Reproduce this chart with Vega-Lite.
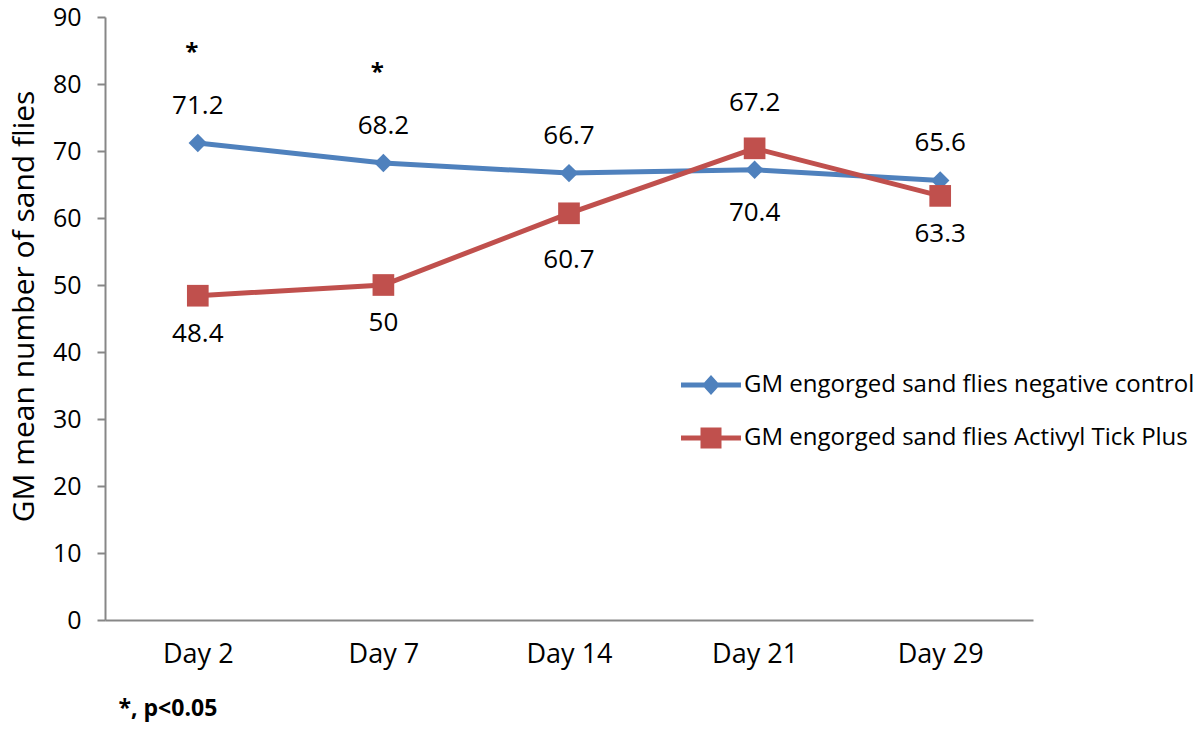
{
  "$schema": "https://vega.github.io/schema/vega-lite/v6.json",
  "width": 928,
  "height": 603,
  "autosize": {"type": "none"},
  "padding": {"left": 105, "top": 17, "right": 167, "bottom": 119},
  "background": "white",
  "config": {
    "font": "Open Sans",
    "view": {"stroke": null},
    "axis": {"domainColor": "#878787", "domainWidth": 2, "tickColor": "#878787", "tickWidth": 2, "labelColor": "#000", "titleColor": "#000", "grid": false}
  },
  "data": {
    "values": [
      {"day": "Day 2", "series": "GM engorged sand flies negative control", "value": 71.2, "sig": "*"},
      {"day": "Day 7", "series": "GM engorged sand flies negative control", "value": 68.2, "sig": "*"},
      {"day": "Day 14", "series": "GM engorged sand flies negative control", "value": 66.7, "sig": ""},
      {"day": "Day 21", "series": "GM engorged sand flies negative control", "value": 67.2, "sig": ""},
      {"day": "Day 29", "series": "GM engorged sand flies negative control", "value": 65.6, "sig": ""},
      {"day": "Day 2", "series": "GM engorged sand flies Activyl Tick Plus", "value": 48.4, "sig": ""},
      {"day": "Day 7", "series": "GM engorged sand flies Activyl Tick Plus", "value": 50, "sig": ""},
      {"day": "Day 14", "series": "GM engorged sand flies Activyl Tick Plus", "value": 60.7, "sig": ""},
      {"day": "Day 21", "series": "GM engorged sand flies Activyl Tick Plus", "value": 70.4, "sig": ""},
      {"day": "Day 29", "series": "GM engorged sand flies Activyl Tick Plus", "value": 63.3, "sig": ""}
    ]
  },
  "encoding": {
    "x": {
      "field": "day", "type": "ordinal",
      "sort": ["Day 2", "Day 7", "Day 14", "Day 21", "Day 29"],
      "scale": {"type": "point", "padding": 0.5},
      "title": "*, p<0.05",
      "axis": {
        "labelAngle": 0, "labelFontSize": 27, "labelPadding": 21, "ticks": false,
        "titleFontSize": 23, "titleFontWeight": "bold", "titleX": 13, "titleY": 88,
        "titleAlign": "left", "titleBaseline": "middle", "titleAnchor": "start"
      }
    },
    "y": {
      "field": "value", "type": "quantitative",
      "scale": {"domain": [0, 90], "nice": false, "zero": true},
      "title": "GM mean number of sand flies",
      "axis": {
        "values": [0, 10, 20, 30, 40, 50, 60, 70, 80, 90],
        "tickSize": 8, "labelFontSize": 25, "labelPadding": 16,
        "titleFontSize": 30, "titleFontWeight": "normal", "titleX": -81, "titleY": 289,
        "titleAlign": "center", "titleBaseline": "middle", "titleAngle": -90
      }
    }
  },
  "layer": [
    {
      "mark": {"type": "line", "strokeWidth": 5},
      "encoding": {
        "color": {
          "field": "series", "type": "nominal",
          "scale": {
            "domain": ["GM engorged sand flies negative control", "GM engorged sand flies Activyl Tick Plus"],
            "range": ["#4F81BD", "#C0504D"]
          },
          "legend": {
            "title": null, "orient": "none", "legendX": 591, "legendY": 353,
            "padding": 0, "symbolSize": 900, "labelOffset": 18, "rowPadding": 26,
            "labelFontSize": 24, "labelColor": "#000", "labelLimit": 600,
            "encode": {
              "symbols": {
                "update": {
                  "shape": {"signal": "datum.value == 'GM engorged sand flies negative control' ? 'M-2,-0.167L-0.45,-0.167L0,-0.67L0.45,-0.167L2,-0.167L2,0.167L0.45,0.167L0,0.67L-0.45,0.167L-2,0.167Z' : 'M-2,-0.167L-0.7,-0.167L-0.7,-0.7L0.7,-0.7L0.7,-0.167L2,-0.167L2,0.167L0.7,0.167L0.7,0.7L-0.7,0.7L-0.7,0.167L-2,0.167Z'"},
                  "fill": {"signal": "datum.value == 'GM engorged sand flies negative control' ? '#4F81BD' : '#C0504D'"},
                  "stroke": {"value": "transparent"},
                  "strokeWidth": {"value": 0},
                  "opacity": {"value": 1},
                  "fillOpacity": {"value": 1},
                  "size": {"value": 900}
                }
              }
            }
          }
        }
      }
    },
    {
      "transform": [{"filter": "datum.series == 'GM engorged sand flies negative control'"}],
      "mark": {"type": "point", "shape": "diamond", "filled": true, "size": 340, "color": "#4F81BD", "opacity": 1}
    },
    {
      "transform": [{"filter": "datum.series == 'GM engorged sand flies Activyl Tick Plus'"}],
      "mark": {"type": "point", "shape": "square", "filled": true, "size": 470, "color": "#C0504D", "opacity": 1}
    },
    {
      "transform": [{"filter": "datum.series == 'GM engorged sand flies negative control' && datum.day != 'Day 21'"}],
      "mark": {"type": "text", "fontSize": 26, "dy": -37, "baseline": "middle", "color": "#000"},
      "encoding": {"text": {"field": "value", "type": "quantitative"}}
    },
    {
      "transform": [{"filter": "datum.series == 'GM engorged sand flies negative control' && datum.day == 'Day 21'"}],
      "mark": {"type": "text", "fontSize": 26, "dy": -67, "baseline": "middle", "color": "#000"},
      "encoding": {"text": {"field": "value", "type": "quantitative"}}
    },
    {
      "transform": [{"filter": "datum.series == 'GM engorged sand flies Activyl Tick Plus' && datum.day != 'Day 21' && datum.day != 'Day 14'"}],
      "mark": {"type": "text", "fontSize": 26, "dy": 38, "baseline": "middle", "color": "#000"},
      "encoding": {"text": {"field": "value", "type": "quantitative"}}
    },
    {
      "transform": [{"filter": "datum.series == 'GM engorged sand flies Activyl Tick Plus' && datum.day == 'Day 14'"}],
      "mark": {"type": "text", "fontSize": 26, "dy": 47, "baseline": "middle", "color": "#000"},
      "encoding": {"text": {"field": "value", "type": "quantitative"}}
    },
    {
      "transform": [{"filter": "datum.series == 'GM engorged sand flies Activyl Tick Plus' && datum.day == 'Day 21'"}],
      "mark": {"type": "text", "fontSize": 26, "dy": 65, "baseline": "middle", "color": "#000"},
      "encoding": {"text": {"field": "value", "type": "quantitative"}}
    },
    {
      "transform": [{"filter": "datum.sig == '*'"}],
      "mark": {"type": "text", "fontSize": 24, "fontWeight": "bold", "dy": -90, "dx": -6, "baseline": "middle", "color": "#000"},
      "encoding": {"text": {"field": "sig", "type": "nominal"}}
    }
  ]
}
